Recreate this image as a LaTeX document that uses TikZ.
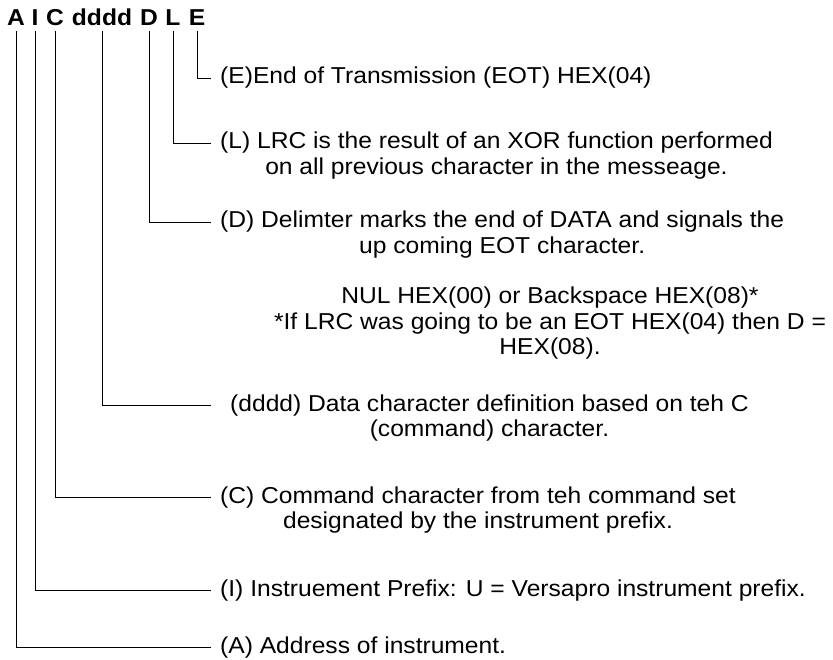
\documentclass[tikz,border=0pt]{standalone}
\usepackage{fontspec}
\setmainfont{Liberation Sans}[FakeStretch=1.07]
\usetikzlibrary{positioning}
\newcommand{\msgsize}{\fontsize{23}{25}\selectfont}
\tikzset{
    head/.style = {font=\msgsize\bfseries, inner sep=0pt, text depth=5pt, anchor=base},
    note/.style = {font=\msgsize, inner xsep=9pt, inner ysep=0pt, text height=17pt, text depth=5pt},
    lead/.style = {draw=black, line width=0.8pt},
}
\begin{document}
\begin{tikzpicture}[x=1pt, y=-1pt]
\useasboundingbox (0,0) rectangle (833,660);
% message frame
\node[head] (hA) at (16,26) {A};
\node[head] (hI) at (35,26) {I};
\node[head] (hC) at (55,26) {C};
\node[head] (hd) at (102,26) {dddd};
\node[head] (hD) at (149,26) {D};
\node[head] (hL) at (173,26) {L};
\node[head] (hE) at (197,26) {E};

% descriptions
\node[note, anchor=west] (tE) at (211,78) {(E)End of Transmission (EOT) HEX(04)};
\node[note, anchor=west] (tL) at (211,143) {(L) LRC is the result of an XOR function performed};
\node[note, below=3pt of tL] (tL2) {on all previous character in the messeage.};
\node[note, anchor=west] (tD) at (211,222) {(D) Delimter marks the end of DATA and signals the};
\node[note, below=3pt of tD] (tD2) {up coming EOT character.};
\node[note] (nul1) at (550,298) {NUL HEX(00) or Backspace HEX(08)*};
\node[note, below=3pt of nul1] (nul2) {*If LRC was going to be an EOT HEX(04) then D =};
\node[note, below=3pt of nul2] (nul3) {HEX(08).};
\node[note, anchor=west, inner xsep=19pt] (td) at (211,405) {(dddd) Data character definition based on teh C};
\node[note, below=3pt of td] (td2) {(command) character.};
\node[note, anchor=west] (tC) at (211,497) {(C) Command character from teh command set};
\node[note, below=3pt of tC] (tC2) {designated by the instrument prefix.};
\node[note, anchor=west] (tI) at (211,590) {(I) Instruement Prefix: U = Versapro instrument prefix.};
\node[note, anchor=west] (tA) at (211,647) {(A) Address of instrument.};

% leaders
\draw[lead] (hE.south) |- (tE.west);
\draw[lead] (hL.south) |- (tL.west);
\draw[lead] (hD.south) |- (tD.west);
\draw[lead] (hd.south) |- (td.west);
\draw[lead] (hC.south) |- (tC.west);
\draw[lead] (hI.south) |- (tI.west);
\draw[lead] (hA.south) |- (tA.west);
\end{tikzpicture}
\end{document}
